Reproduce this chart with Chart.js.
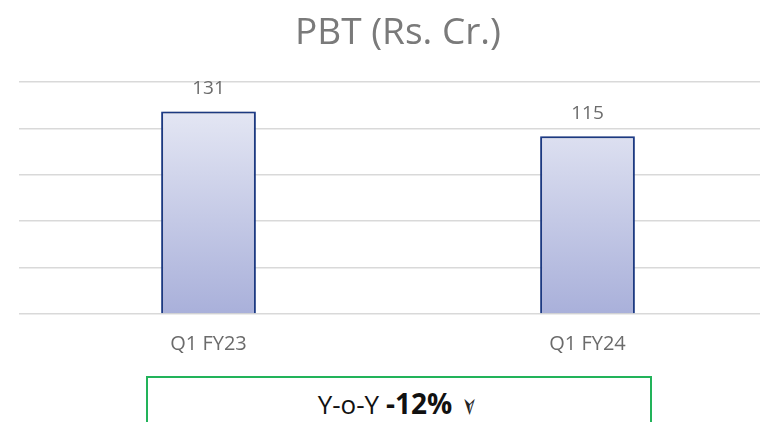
<!DOCTYPE html>
<html>
<head>
<meta charset="utf-8">
<script src="https://cdn.jsdelivr.net/npm/chart.js@4"></script>
<style>
  html, body { margin: 0; padding: 0; background: #fff; overflow: hidden; }
  #wrap { position: relative; width: 760px; height: 422px; overflow: hidden; }
  #wrap canvas { position: absolute; left: 0; top: 0; }
  #yoy {
    position: absolute; left: 146px; top: 376px; width: 506px; height: 60px;
    border: 2px solid #22b35a; box-sizing: border-box;
    font-family: "Open Sans", sans-serif; color: #111; text-align: center;
    padding-top: 7px; line-height: 36px; font-size: 26px;
  }
  #yoy b { font-size: 28px; font-weight: 700; }
  #yoy .arr { display: inline-block; transform: rotate(90deg); font-family: "DejaVu Sans", sans-serif; font-size: 24px; color: #222; margin-left: 8px; }
</style>
</head>
<body>
<div id="wrap">
  <canvas id="chart-canvas" width="777" height="366"></canvas>
  <div id="yoy"></div>
</div>
<script>
const categories = ['Q1 FY23', 'Q1 FY24'];
const pbtValues = [131, 115];
const yTicks = [0, 30, 60, 90, 120, 150];

const fontFamily = '"Open Sans", sans-serif';

// value labels above bars
const valueLabels = {
  id: 'valueLabels',
  afterDatasetsDraw(chart) {
    const ctx = chart.ctx;
    const meta = chart.getDatasetMeta(0);
    ctx.save();
    ctx.font = '19px ' + fontFamily;
    ctx.fillStyle = '#6b6b6b';
    ctx.textAlign = 'center';
    ctx.textBaseline = 'middle';
    meta.data.forEach((bar, i) => {
      ctx.fillText(String(pbtValues[i]), bar.x, bar.y - 23);
    });
    ctx.restore();
  }
};

const barShadow = {
  id: 'barShadow',
  beforeDatasetsDraw(chart) {
    const ctx = chart.ctx;
    ctx.save();
    ctx.shadowColor = 'rgba(0,0,0,0.25)';
    ctx.shadowBlur = 4;
  },
  afterDatasetsDraw(chart) {
    chart.ctx.restore();
  }
};

const canvas = document.querySelector('#chart-canvas');
const ctx = canvas.getContext('2d');

new Chart(ctx, {
  type: 'bar',
  data: {
    labels: categories,
    datasets: [{
      label: 'PBT',
      data: pbtValues,
      backgroundColor(c) {
        const area = c.chart.chartArea;
        if (!area) return '#c8cde8';
        const g = c.chart.ctx.createLinearGradient(0, area.top, 0, area.bottom);
        g.addColorStop(0, '#eceef7');
        g.addColorStop(1, '#a9b0da');
        return g;
      },
      borderColor: '#1f3f8f',
      borderWidth: 2,
      borderSkipped: 'bottom',
      barPercentage: 0.5,
      categoryPercentage: 0.5
    }]
  },
  options: {
    responsive: false,
    animation: false,
    layout: { padding: { left: 19, right: 0, top: 0, bottom: 0 } },
    plugins: {
      legend: { display: false },
      tooltip: { enabled: false },
      title: {
        display: true,
        text: 'PBT (Rs. Cr.)',
        color: '#7a7a7a',
        font: { family: fontFamily, size: 37, weight: 'normal', lineHeight: 1.2 },
        padding: { top: 11, bottom: 26.6 }
      }
    },
    scales: {
      x: {
        grid: { display: false },
        border: { display: false },
        ticks: { color: '#6b6b6b', font: { family: fontFamily, size: 20 }, padding: 10 }
      },
      y: {
        min: yTicks[0],
        max: yTicks[yTicks.length - 1],
        afterBuildTicks(axis) { axis.ticks = yTicks.map(v => ({ value: v })); },
        grid: { color: '#d9d9d9', lineWidth: 1.5, drawTicks: false },
        border: { display: false },
        ticks: { display: false }
      }
    }
  },
  plugins: [barShadow, valueLabels]
});

const yoy = Math.round((pbtValues[1] - pbtValues[0]) / pbtValues[0] * 100);
document.querySelector('#yoy').innerHTML =
  'Y-o-Y <b>' + yoy + '%</b><span class="arr">&#x27A2;</span>';
</script>
</body>
</html>
